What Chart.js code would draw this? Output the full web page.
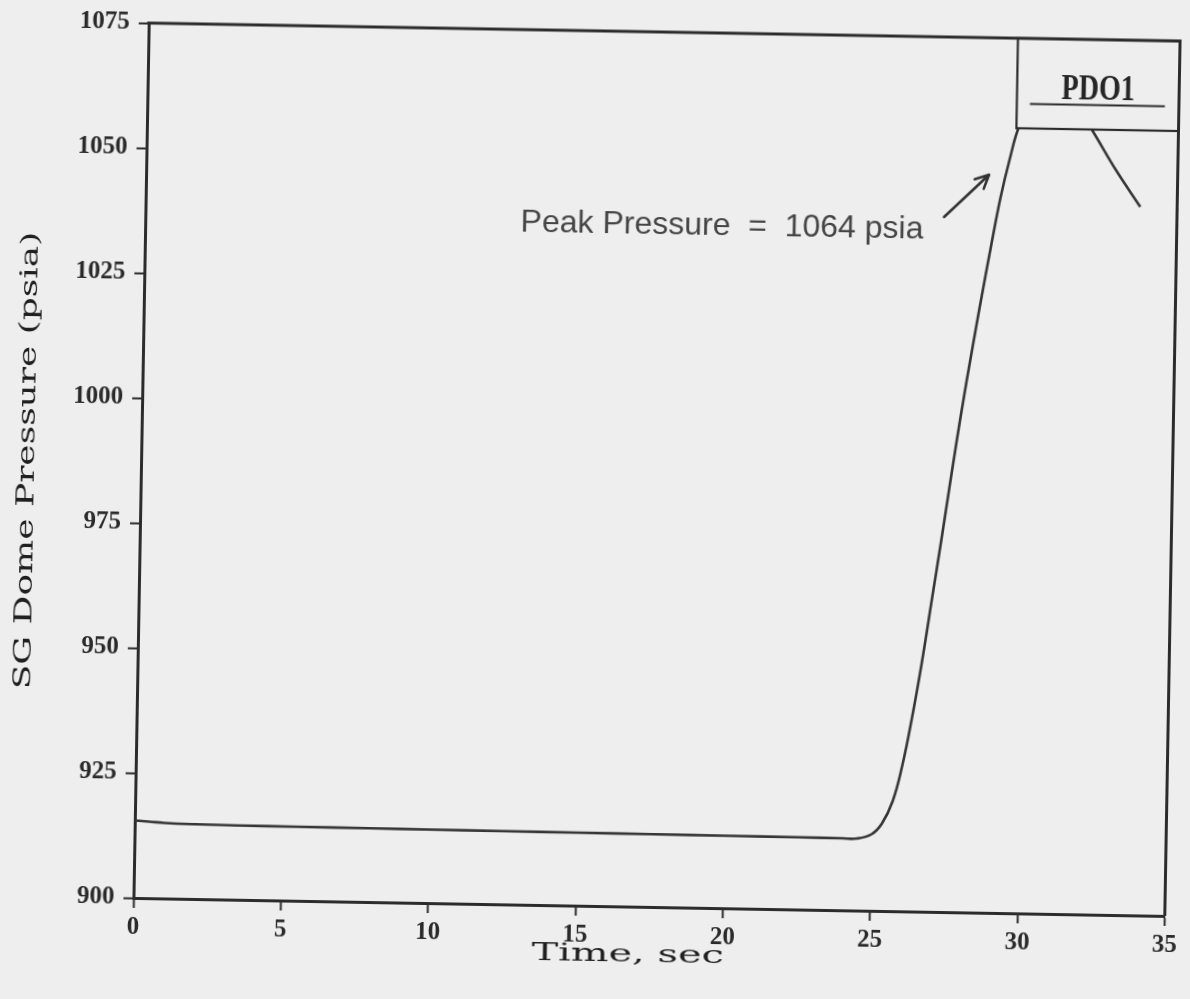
<!DOCTYPE html>
<html>
<head>
<meta charset="utf-8">
<script src="https://cdn.jsdelivr.net/npm/chart.js@4.4.1/dist/chart.umd.min.js"></script>
<style>
  html, body { margin: 0; padding: 0; background: #eeeeee; overflow: hidden; }
  #wrap { position: absolute; left: 0; top: 0; width: 1190px; height: 999px;
          transform: rotate(1deg); transform-origin: 657.5px 469.5px; }
  canvas { display: block; }
</style>
</head>
<body>
<div id="wrap"><canvas id="c" width="1190" height="999"></canvas></div>
<script>
// ---------------- data ----------------
const timeSec = [0, 0.5, 1, 2, 3.5, 5.5, 8, 10, 12.5, 15, 17.5, 20, 22.5, 24, 24.5, 25.0,
  25.35, 25.7, 26.0, 26.3, 26.6, 26.9, 27.2, 27.5, 27.8, 28.1, 28.4, 28.7, 29.0, 29.3,
  29.6, 30.0, 30.5, 31.0, 31.5, 32.1, 32.9, 33.75];
const domePressure = [915.5, 915.3, 915.1, 914.95, 914.85, 914.8, 914.75, 914.7, 914.65,
  914.6, 914.55, 914.5, 914.45, 914.4, 914.4, 915.3,
  917.5, 922, 929, 938.5, 949.5, 962, 974.5, 987.5, 1000, 1011.5, 1022.5, 1033, 1043, 1051,
  1057.5, 1061.5, 1063.5, 1064, 1062, 1056.6, 1049, 1041.7];

const xTickValues = [0, 5, 10, 15, 20, 25, 30, 35];
const yTickValues = [900, 925, 950, 975, 1000, 1025, 1050, 1075];

const xTitle = 'Time, sec';
const yTitle = 'SG Dome Pressure (psia)';
const peakLabel = 'Peak Pressure  =  1064 psia';
const caseLabel = 'PDO1';

// annotation anchors (data units)
const peakTextAt = { x: 19.57, y: 1034.6 };
const arrowFrom = { x: 27.1, y: 1039 };
const arrowTo = { x: 28.6, y: 1047.6 };
const caseBoxCorner = { x: 29.5, y: 1057 };
const xTitleCenter = 16.8;

// ---------------- styling ----------------
const paper = '#eeeeee';
const ink = '#2c2c2c';
const tickFont = { family: '"Liberation Serif", serif', size: 25, weight: 'bold' };

const decor = {
  id: 'decor',
  afterDatasetsDraw(chart) {
    const { ctx, chartArea: a, scales: { x, y } } = chart;
    ctx.save();
    // case box covering the top right corner
    const bx = x.getPixelForValue(caseBoxCorner.x);
    const by = y.getPixelForValue(caseBoxCorner.y);
    ctx.fillStyle = paper;
    ctx.fillRect(bx, a.top, a.right - bx, by - a.top);
    ctx.strokeStyle = ink;
    ctx.lineWidth = 2.2;
    ctx.strokeRect(bx, a.top, a.right - bx, by - a.top);
    const cx = (bx + a.right) / 2;
    // case label
    ctx.fillStyle = '#262626';
    ctx.font = 'bold 36px "Liberation Serif", serif';
    ctx.textAlign = 'center';
    ctx.textBaseline = 'alphabetic';
    ctx.save();
    ctx.translate(cx, a.top + 60);
    ctx.scale(0.78, 1);
    ctx.fillText(caseLabel, 0, 0);
    ctx.restore();
    ctx.lineWidth = 2.2;
    ctx.beginPath();
    ctx.moveTo(cx - 68, a.top + 65.5);
    ctx.lineTo(cx + 67, a.top + 65.5);
    ctx.stroke();

    // peak annotation
    ctx.fillStyle = '#454545';
    ctx.font = '32px "Liberation Sans", Arial, sans-serif';
    ctx.textAlign = 'center';
    ctx.fillText(peakLabel, x.getPixelForValue(peakTextAt.x), y.getPixelForValue(peakTextAt.y));
    // arrow
    const x0 = x.getPixelForValue(arrowFrom.x), y0 = y.getPixelForValue(arrowFrom.y);
    const x1 = x.getPixelForValue(arrowTo.x), y1 = y.getPixelForValue(arrowTo.y);
    const ang = Math.atan2(y1 - y0, x1 - x0);
    ctx.strokeStyle = '#333';
    ctx.lineWidth = 2.6;
    ctx.lineCap = 'round';
    ctx.beginPath();
    ctx.moveTo(x0, y0); ctx.lineTo(x1, y1);
    for (const s of [-1, 1]) {
      ctx.moveTo(x1, y1);
      ctx.lineTo(x1 - 15 * Math.cos(ang + s * 0.45), y1 - 15 * Math.sin(ang + s * 0.45));
    }
    ctx.stroke();
    ctx.restore();
  },
  afterDraw(chart) {
    const { ctx, chartArea: a, scales: { x } } = chart;
    ctx.save();
    // top and right frame lines
    ctx.strokeStyle = ink;
    ctx.lineWidth = 3;
    ctx.beginPath();
    ctx.moveTo(a.left - 1.5, a.top); ctx.lineTo(a.right + 1.5, a.top);
    ctx.moveTo(a.right, a.top); ctx.lineTo(a.right, a.bottom);
    ctx.stroke();
    // axis titles (wide serif)
    ctx.fillStyle = '#1f1f1f';
    ctx.font = '24px "DejaVu Serif", serif';
    ctx.textAlign = 'center';
    ctx.textBaseline = 'alphabetic';
    ctx.save();
    ctx.translate(x.getPixelForValue(xTitleCenter), 962);
    ctx.scale(1.66, 1);
    ctx.fillText(xTitle, 0, 0);
    ctx.restore();
    ctx.save();
    ctx.translate(34, (a.top + a.bottom) / 2 + 2);
    ctx.rotate(-Math.PI / 2);
    ctx.scale(1.5, 1);
    ctx.fillText(yTitle, 0, 0);
    ctx.restore();
    ctx.restore();
  }
};

new Chart(document.getElementById('c'), {
  type: 'line',
  data: {
    datasets: [{
      data: timeSec.map((t, i) => ({ x: t, y: domePressure[i] })),
      borderColor: '#363636',
      borderWidth: 2.6,
      pointRadius: 0,
      tension: 0.4,
      fill: false
    }]
  },
  options: {
    responsive: false,
    devicePixelRatio: 1,
    animation: false,
    layout: { padding: { left: 0, right: 16, top: 32, bottom: 0 } },
    plugins: { legend: { display: false }, tooltip: { enabled: false } },
    scales: {
      x: {
        type: 'linear', min: 0, max: 35,
        afterBuildTicks: s => { s.ticks = xTickValues.map(v => ({ value: v })); },
        afterFit: s => { s.height = 92; },
        grid: { display: true, drawOnChartArea: false, drawTicks: true, tickLength: 10,
                tickWidth: 2, tickColor: ink },
        border: { display: true, width: 3, color: ink },
        ticks: { font: tickFont, color: '#2a2a2a', padding: 5, maxRotation: 0,
                 callback: v => String(v) },
        title: { display: false, text: xTitle }
      },
      y: {
        type: 'linear', min: 900, max: 1075,
        afterBuildTicks: s => { s.ticks = yTickValues.map(v => ({ value: v })); },
        afterFit: s => { s.width = 141; },
        grid: { display: true, drawOnChartArea: false, drawTicks: true, tickLength: 10,
                tickWidth: 2, tickColor: ink },
        border: { display: true, width: 3, color: ink },
        ticks: { font: tickFont, color: '#2a2a2a', padding: 9, callback: v => String(v) },
        title: { display: false, text: yTitle }
      }
    }
  },
  plugins: [decor]
});
</script>
</body>
</html>
